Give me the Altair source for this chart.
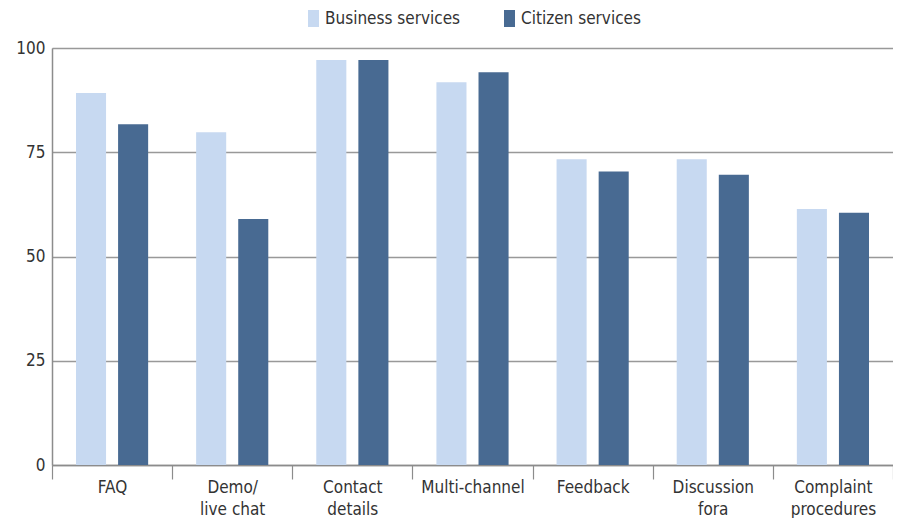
import altair as alt
import pandas as pd

categories = ["FAQ", "Demo/|live chat", "Contact|details", "Multi-channel", "Feedback", "Discussion|fora", "Complaint|procedures"]
business = [89.2, 79.8, 97.1, 91.8, 73.3, 73.3, 61.4]
citizen = [81.7, 59.0, 97.1, 94.2, 70.4, 69.6, 60.5]
series = ["Business services", "Citizen services"]
colors = ["#C7D9F1", "#486A92"]

rows = []
for c, b, z in zip(categories, business, citizen):
    rows.append({"cat": c, "series": series[0], "value": b})
    rows.append({"cat": c, "series": series[1], "value": z})
df = pd.DataFrame(rows)

FONT = "Liberation Sans Narrow, DejaVu Sans Condensed, sans-serif"

chart = alt.Chart(df).mark_bar().encode(
    x=alt.X("cat:N", sort=categories, title=None,
            scale=alt.Scale(paddingInner=0, paddingOuter=0),
            axis=alt.Axis(labelExpr="isValid(datum.value) ? split(datum.value, '|') : ''",
                          labelAngle=0,
                          tickBand="extent", tickSize=14, tickColor="#8c8c8c",
                          domainColor="#8c8c8c", domainWidth=1.5, tickWidth=1.2,
                          labelPadding=0, labelLineHeight=22, labelFontSize=17,
                          labelColor="#333333", labelFont=FONT, grid=False)),
    xOffset=alt.XOffset("series:N", sort=series,
                        scale=alt.Scale(paddingInner=0.2857, paddingOuter=0.57)),
    y=alt.Y("value:Q", title=None,
            scale=alt.Scale(domain=[0, 100], nice=False),
            axis=alt.Axis(values=[0, 25, 50, 75, 100], ticks=False, labelPadding=7,
                          labelFontSize=17, labelColor="#333333", labelFont=FONT,
                          domainColor="#8c8c8c", domainWidth=1.5,
                          grid=True, gridColor="#999999", gridWidth=1.5)),
    color=alt.Color("series:N", sort=series,
                    scale=alt.Scale(domain=series, range=colors),
                    legend=alt.Legend(title=None, orient="none", direction="horizontal",
                                      legendX=253, legendY=-38,
                                      symbolType="M-0.65,-1L0.65,-1L0.65,1L-0.65,1Z",
                                      symbolSize=289, symbolStrokeWidth=0,
                                      labelFontSize=17, labelFont=FONT, labelColor="#333333",
                                      labelOffset=3, columnPadding=40)),
).properties(
    width=841, height=417,
    autosize=alt.AutoSizeParams(type="none"),
    padding={"left": 44, "top": 40, "right": 0, "bottom": 53},
).configure_view(stroke=None).configure(background="white")

chart.save("out.html", embed_options={"renderer": "svg", "actions": False})
